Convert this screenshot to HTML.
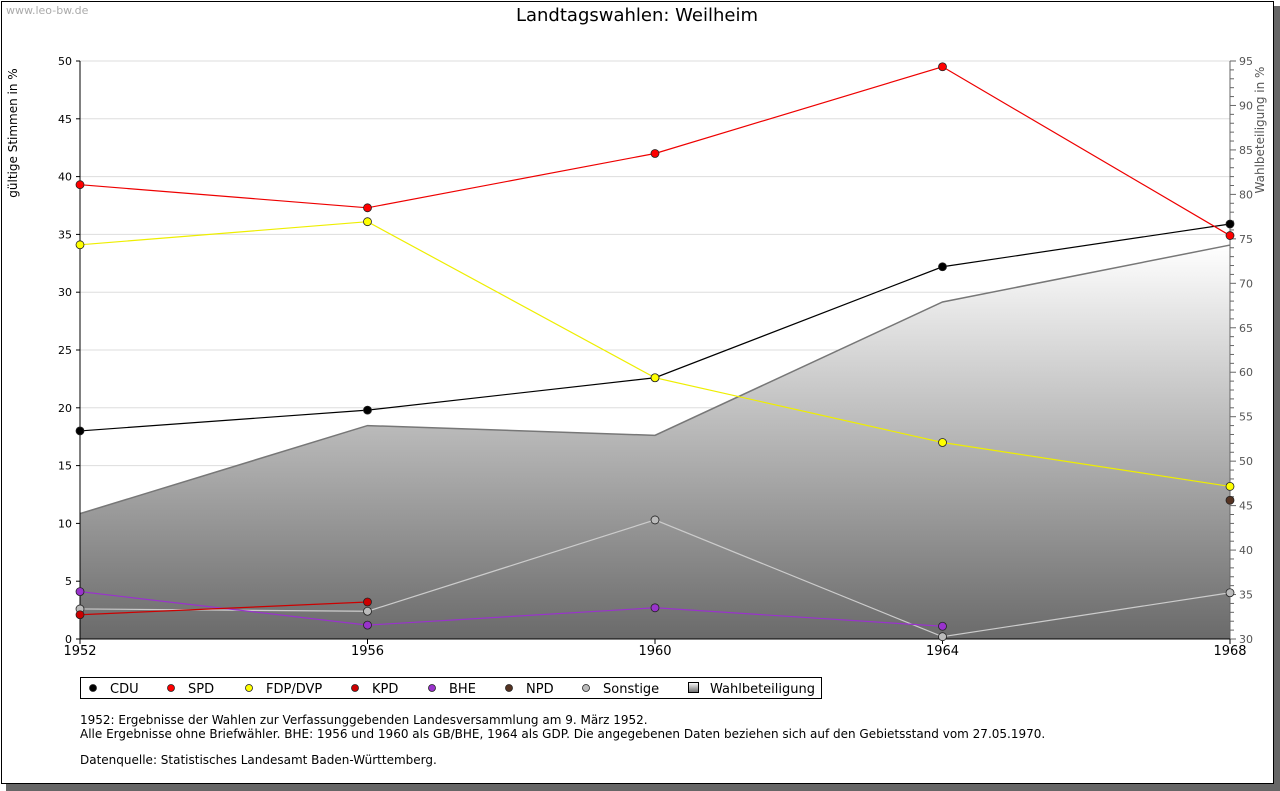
<!DOCTYPE html>
<html><head><meta charset="utf-8"><style>
body{margin:0;background:#fff;}
svg{display:block;font-family:"DejaVu Sans","Liberation Sans",sans-serif;}
</style></head><body>
<svg id="c" width="1280" height="791" viewBox="0 0 1280 791" xmlns="http://www.w3.org/2000/svg">
<defs>
<linearGradient id="g" x1="0" y1="0" x2="0" y2="1">
<stop offset="0" stop-color="#ffffff"/><stop offset="1" stop-color="#6a6a6a"/>
</linearGradient>
</defs>
<rect x="6" y="6" width="1274" height="785" fill="#666"/>
<rect x="1.5" y="1.5" width="1272" height="782" fill="#fff" stroke="#000"/>
<text x="6" y="14" font-size="11" fill="#aaa">www.leo-bw.de</text>
<text x="637" y="21" font-size="18" text-anchor="middle">Landtagswahlen: Weilheim</text>
<text transform="translate(17,133) rotate(-90)" font-size="12" text-anchor="middle">gültige Stimmen in %</text>
<text transform="translate(1264,130) rotate(-90)" font-size="12" fill="#555" text-anchor="middle">Wahlbeteiligung in %</text>
<g id="plot"></g>
<rect x="80.5" y="677.5" width="741" height="21" fill="#fff" stroke="#000"/>
<g id="legend"></g>
<g font-size="12">
<text x="80" y="724">1952: Ergebnisse der Wahlen zur Verfassunggebenden Landesversammlung am 9. März 1952.</text>
<text x="80" y="738">Alle Ergebnisse ohne Briefwähler. BHE: 1956 und 1960 als GB/BHE, 1964 als GDP. Die angegebenen Daten beziehen sich auf den Gebietsstand vom 27.05.1970.</text>
<text x="80" y="764">Datenquelle: Statistisches Landesamt Baden-Württemberg.</text>
</g>
</svg>
<script>
const years=[1952,1956,1960,1964,1968];
const leftTicks=[0,5,10,15,20,25,30,35,40,45,50];
const rightTicks=[30,35,40,45,50,55,60,65,70,75,80,85,90,95];
const turnout=[44.1,54.0,52.9,67.9,74.3];
const cdu=[18.0,19.8,22.6,32.2,35.9];
const spd=[39.3,37.3,42.0,49.5,34.9];
const fdp=[34.1,36.1,22.6,17.0,13.2];
const kpd=[2.1,3.2,null,null,null];
const bhe=[4.1,1.2,2.7,1.1,null];
const npd=[null,null,null,null,12.0];
const sonst=[2.6,2.4,10.3,0.2,4.0];
const X0=80,X1=1230,Y0=639,Y1=61;
const xs=y=>X0+(y-1952)/(1968-1952)*(X1-X0);
const yl=v=>Y0-v/50*(Y0-Y1);
const yr=v=>Y0-(v-30)/65*(Y0-Y1);
const NS="http://www.w3.org/2000/svg";
const plot=document.getElementById('plot');
function mk(tag,attrs,parent){const e=document.createElementNS(NS,tag);for(const k in attrs)e.setAttribute(k,attrs[k]);(parent||plot).appendChild(e);return e;}
leftTicks.forEach(t=>{
 if(t>0){const l=mk('line',{x1:X0,x2:X1,y1:yl(t),y2:yl(t),stroke:'#ddd'});
 
 }
 mk('line',{x1:X0-4,x2:X0,y1:yl(t),y2:yl(t),stroke:'#000'});
 const tx=mk('text',{x:X0-8,y:yl(t)+4,'font-size':11,'text-anchor':'end'});tx.textContent=t;
 
 
});
let ap='M'+xs(years[0])+','+Y0;
years.forEach((y,i)=>ap+=' L'+xs(y)+','+yr(turnout[i]));
ap+=' L'+xs(years[years.length-1])+','+Y0+' Z';
const area=mk('path',{d:ap,fill:'url(#g)'});


const aline=mk('polyline',{points:years.map((y,i)=>xs(y)+','+yr(turnout[i])).join(' '),fill:'none',stroke:'#777','stroke-width':1.5});


for(let v=30;v<=95;v++){const big=v%5==0;mk('line',{x1:X1,x2:X1+(big?6:4),y1:yr(v),y2:yr(v),stroke:'#666'});
 if(big){const tx=mk('text',{x:X1+9,y:yr(v)+4,'font-size':11,fill:'#555'});tx.textContent=v;
 
 }}
mk('line',{x1:X1,x2:X1,y1:Y1,y2:Y0,stroke:'#666'});
mk('line',{x1:X0,x2:X0,y1:Y1,y2:Y0,stroke:'#000'});
mk('line',{x1:X0,x2:X1,y1:Y0,y2:Y0,stroke:'#000'});
years.forEach(y=>{mk('line',{x1:xs(y),x2:xs(y),y1:Y0,y2:Y0+5,stroke:'#000'});
 const tx=mk('text',{x:xs(y),y:Y0+16,'font-size':13,'text-anchor':'middle'});tx.textContent=y;
 
 });
const series=[['cdu',cdu,'#000','#000'],['spd',spd,'#ff0000','#e00'],['fdp',fdp,'#ffff00','#ee0'],['kpd',kpd,'#cc0000','#c00'],['bhe',bhe,'#9933cc','#93c'],['npd',npd,'#553322','#532'],['sonstige',sonst,'#bbbbbb','#ccc']];
[6,4,5,3,0,1,2].forEach(si=>{const [n,d,fill,stroke]=series[si];
 let seg=[];const flush=()=>{if(seg.length>1){const p=mk('polyline',{points:seg.join(' '),fill:'none',stroke:stroke,'stroke-width':1.2});
 
 }seg=[];};
 d.forEach((v,i)=>{if(v==null)flush();else seg.push(xs(years[i])+','+yl(v));});flush();
 d.forEach((v,i)=>{if(v==null)return;const c=mk('circle',{cx:xs(years[i]),cy:yl(v),r:4,fill:fill,stroke:'#222','stroke-width':0.8});
 
 });
});
const lg=document.getElementById('legend');
const items=[['CDU','#000',93],['SPD','#ff0000',171],['FDP/DVP','#ffff00',249],['KPD','#cc0000',355],['BHE','#9933cc',432],['NPD','#553322',509],['Sonstige','#bbbbbb',586]];
items.forEach(([t,c,x])=>{const m=mk('circle',{cx:x,cy:688,r:3.5,fill:c,stroke:'#222','stroke-width':0.8},lg);
 
 
 const tx=mk('text',{x:x+17,y:693,'font-size':13},lg);tx.textContent=t;
 
 });
const sq=mk('rect',{x:688.5,y:682.5,width:10,height:10,fill:'url(#g)',stroke:'#000'},lg);


const wt=mk('text',{x:710,y:693,'font-size':13},lg);wt.textContent='Wahlbeteiligung';


</script>
</body></html>
